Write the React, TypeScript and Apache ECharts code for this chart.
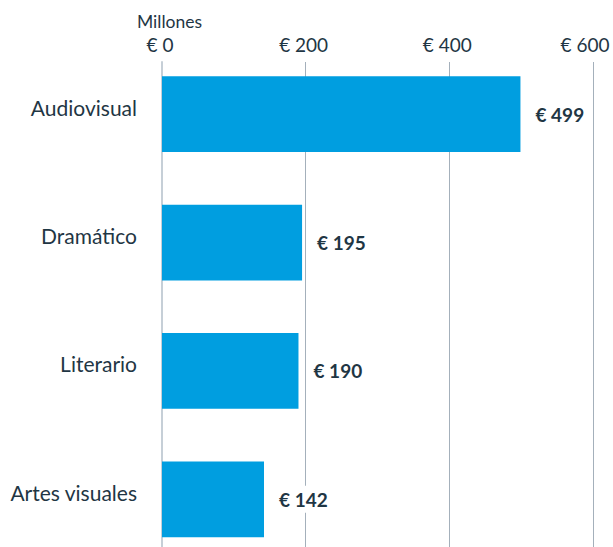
import React, { useEffect, useRef } from "react";
import * as echarts from "echarts";

const categories = ["Audiovisual", "Dramático", "Literario", "Artes visuales"];
const values = [499, 195, 190, 142];
const axisMin = 0;
const axisMax = 600;
const axisInterval = 200;
const unitLabel = "Millones";

export default function App() {
  const ref = useRef<HTMLDivElement>(null);
  useEffect(() => {
    if (!ref.current) return;
    const chart = echarts.init(ref.current, null, { renderer: "svg" });
    const font = "Lato";
    const textColor = "#1f3644";
    const tickText = { fontFamily: font, fontSize: 19, color: textColor };
    const catText = { fontFamily: font, fontSize: 21, color: textColor };
    chart.setOption({
      animation: false,
      textStyle: { fontFamily: font },
      title: {
        text: unitLabel,
        left: 132,
        top: 7,
        textStyle: { fontFamily: font, fontSize: 17.5, fontWeight: "normal", color: textColor },
      },
      grid: [
        { left: 162, right: 20, top: 50, bottom: 16.5, outerBoundsMode: "none", containLabel: false },
        { left: 162, right: 20, top: 62, bottom: 33, outerBoundsMode: "none", containLabel: false },
      ],
      xAxis: [
        {
          gridIndex: 0,
          type: "value",
          min: axisMin,
          max: axisMax,
          interval: axisInterval,
          show: false,
        },
        {
          gridIndex: 1,
          type: "value",
          position: "top",
          min: axisMin,
          max: axisMax,
          interval: axisInterval,
          axisLine: { show: false },
          axisTick: { show: false },
          axisLabel: {
            margin: 8,
            ...tickText,
            formatter: (v: number) => (v === axisMax ? "{last|€ " + v + "}" : "{n|€ " + v + "}"),
            rich: {
              n: { ...tickText, padding: [0, 4, 0, 0] },
              last: { ...tickText, padding: [0, 16, 0, 0] },
            },
          },
          splitLine: { show: true, lineStyle: { color: "#a4b0bb", width: 1 } },
        },
      ],
      yAxis: [
        {
          gridIndex: 0,
          type: "category",
          data: categories,
          inverse: true,
          axisLine: { show: false },
          axisTick: { show: false },
          axisLabel: {
            margin: 25,
            ...catText,
            formatter: (v: string) => "{c|" + v + "}",
            rich: {
              c: { ...catText, padding: [0, 0, 14, 0] },
            },
          },
        },
        {
          gridIndex: 1,
          type: "value",
          axisLine: { show: true, lineStyle: { color: "#c6cfd7", width: 2 } },
          axisTick: { show: false },
          axisLabel: { show: false },
          splitLine: { show: false },
        },
      ],
      series: [
        {
          type: "bar",
          xAxisIndex: 0,
          yAxisIndex: 0,
          data: values,
          barWidth: "59%",
          itemStyle: { color: "#009ee0" },
          z: 3,
          label: {
            show: true,
            position: "right",
            distance: 9,
            formatter: (p: any) => "€ " + p.value,
            fontFamily: font,
            fontSize: 19,
            fontWeight: "bold",
            color: textColor,
            backgroundColor: "#ffffff",
            padding: [4, 6],
          },
        },
      ],
    });
    return () => chart.dispose();
  }, []);
  return (
    <div style={{ width: 613, height: 547, position: "absolute", left: 0, top: 0, overflow: "hidden" }}>
      <div ref={ref} style={{ width: 613, height: 580 }} />
    </div>
  );
}
